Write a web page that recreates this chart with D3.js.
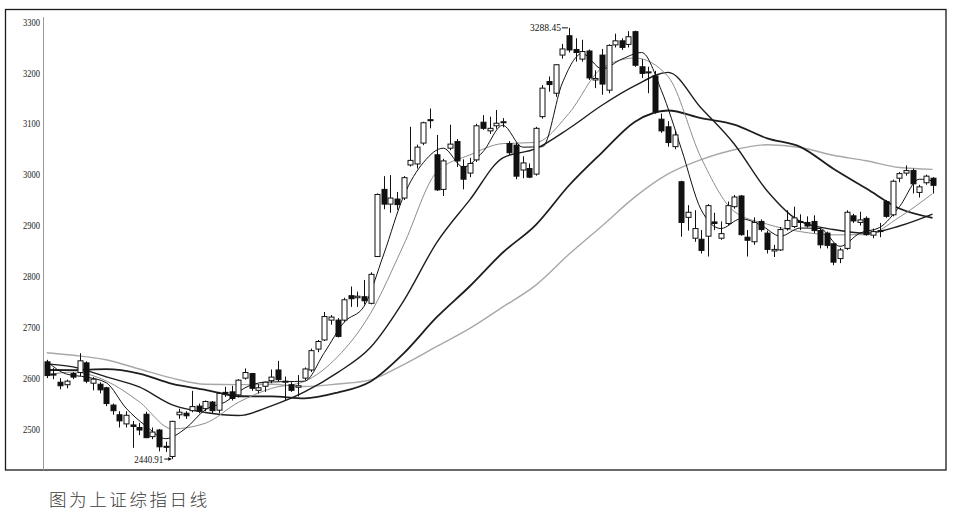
<!DOCTYPE html>
<html><head><meta charset="utf-8">
<script src="https://cdn.jsdelivr.net/npm/d3@7"></script>
<style>html,body{margin:0;padding:0;background:#fff;}svg{display:block;}</style>
</head><body>
<script>
// ---- data (Shanghai Composite daily, 2018-12-06 .. 2019-06-28) ----
const open = [2632,2608,2592,2587,2609,2611,2630,2590,2588,2581, 2547,2528,2510,2508,2503,2529,2485,2498,2466,2446,
 2528,2531,2536,2545,2540,2553,2537,2572,2573,2567, 2600,2609,2576,2584,2595,2616,2592,2587,2582,2600,
 2616,2657,2675,2714,2714,2714,2762,2758,2760,2747, 2839,2971,2942,2952,2954,3019,3021,3062,3108,3039,
 2971,3052,3065,3016,3003,3029,3103,3086,3096,3102, 3061,3058,3009,3012,3001,3114,3183,3160,3235,3273,
 3246,3227,3243,3186,3235,3166,3255,3263,3256,3281, 3212,3200,3194,3109,3094,3055,2986,2916,2875,2873,
 2879,2907,2875,2904,2937,2958,2877,2868,2908,2885, 2850,2852,2894,2898,2908,2906,2908,2890,2885,2864,
 2835,2855,2919,2906,2914,2881,2889,2947,2921,2993, 3003,3008,2965,2984,2993];
const high = [2636,2620,2600,2597,2612,2649,2633,2602,2592,2583, 2550,2535,2535,2516,2512,2534,2503,2500,2475,2516,
 2540,2535,2575,2550,2556,2555,2573,2583,2585,2598, 2619,2610,2588,2593,2617,2634,2603,2592,2606,2621,
 2658,2675,2730,2724,2718,2758,2780,2770,2793,2808, 2963,2997,2999,2966,2997,3094,3059,3104,3130,3078,
 3031,3098,3070,3030,3033,3100,3117,3114,3127,3111, 3066,3062,3036,3022,3094,3176,3193,3217,3257,3288.45,
 3268,3265,3246,3205,3247,3256,3277,3268,3282,3283, 3227,3212,3204,3120,3105,3086,2988,2940,2930,2891,
 2942,2925,2908,2947,2960,2960,2891,2916,2912,2890, 2862,2897,2930,2937,2922,2918,2920,2895,2888,2866,
 2856,2930,2923,2927,2918,2894,2905,2950,2990,3005, 3018,3012,2980,3000,2995];
const low = [2600,2598,2578,2580,2598,2604,2590,2576,2570,2545, 2528,2503,2503,2463,2488,2482,2480,2456,2455,2440.91,
 2520,2520,2533,2531,2535,2531,2531,2563,2556,2562, 2597,2575,2570,2573,2590,2593,2557,2573,2564,2596,
 2612,2651,2673,2705,2680,2710,2740,2740,2745,2745, 2838,2932,2925,2931,2950,3016,3012,3058,3091,2968,
 2958,3048,3015,2971,2995,3025,3088,3080,3090,3093, 3039,2991,2993,2993,2998,3110,3163,3153,3228,3240,
 3222,3222,3186,3170,3157,3160,3250,3245,3250,3212, 3190,3160,3120,3082,3055,3050,2878,2890,2868,2845,
 2839,2891,2872,2900,2933,2880,2839,2862,2888,2845, 2838,2850,2890,2895,2891,2896,2885,2855,2855,2822,
 2826,2852,2905,2900,2880,2875,2877,2915,2918,2985, 2998,2963,2955,2980,2963];
const close = [2605,2606,2585,2594,2602,2634,2594,2598,2577,2550, 2536,2516,2527,2505,2498,2483,2494,2465,2464,2515,
 2533,2526,2544,2535,2554,2536,2570,2570,2560,2596, 2611,2580,2581,2592,2602,2597,2594,2576,2585,2618,
 2654,2672,2721,2720,2682,2754,2756,2761,2752,2804, 2961,2942,2954,2941,2994,3028,3054,3102,3106,2970,
 3027,3060,3027,2991,3022,3096,3091,3091,3101,3104, 3043,2997,3023,2995,3091,3170,3177,3216,3247,3245,
 3240,3242,3190,3189,3178,3254,3263,3250,3271,3215, 3199,3202,3124,3086,3063,3078,2906,2926,2894,2851,
 2939,2904,2884,2939,2956,2882,2871,2906,2892,2853, 2853,2892,2910,2915,2906,2899,2890,2862,2861,2828,
 2852,2926,2909,2911,2882,2888,2890,2918,2987,3002, 3008,2982,2976,2997,2979];

// moving averages (day index -> value)
const ma5Days = [0,3,6,9,12,15,18,21,24,27,30,33,36,39,42,45,48,51,54,57,60,63,66,69,72,75,78,81,84,87,90,93,96,99,102,105,108,111,114,117,120,123,126,129,132,134];
const ma5 = [2633,2608,2602,2591,2541,2506,2481,2501,2538,2553,2581,2592,2593,2594,2650,2710,2741,2844,2958,3024,3052,3015,3045,3097,3054,3055,3180,3238,3208,3227,3240,3165,3051,2931,2894,2913,2901,2879,2895,2894,2859,2885,2896,2937,2991,2988];
const maDays = [0,4,9,14,19,24,29,34,39,44,49,54,59,64,69,74,79,84,89,94,99,104,109,114,119,124,129,134];
const ma10 = [2606,2612,2594.5,2553.5,2500.3,2511.3,2552.4,2579.8,2593.6,2641.9,2727.6,2861.9,3005.2,3038.7,3061,3063.2,3120.4,3209.4,3229.2,3192.7,3032.9,2927.7,2902.6,2888,2881.6,2882,2916.5,2962.7];
const ma20 = [2628,2622,2602.5,2582.6,2547.4,2532.4,2526.4,2545.6,2573,2610.9,2660.6,2751.9,2866.4,2950.3,3033.1,3051,3090.7,3136.3,3174.8,3201,3131,3060.2,2967.8,2907.9,2892.1,2885,2899,2922.4];
const ma40 = [2616,2615.7,2617.6,2609,2588.6,2577,2564.4,2564.1,2560.2,2571.6,2593.5,2648.7,2719.7,2780.6,2846.9,2901.4,2978.6,3043.3,3104,3126,3110.9,3098.3,3071.3,3054.5,3011.6,2972.6,2933.4,2915.1];
const ma60 = [2650,2645,2636,2618,2600,2588,2587.2,2588,2583.4,2588.4,2596.5,2626.7,2662.3,2697.9,2740,2782.8,2843.4,2899.2,2956.2,3001.3,3029.4,3048.9,3058.6,3053.3,3038,3027.2,3013.9,3010.4];

const yTicks = [2500,2600,2700,2800,2900,3000,3100,3200,3300];
const highLabel = "3288.45", lowLabel = "2440.91";
const caption = "图为上证综指日线";

// ---- drawing ----
const W = 962, H = 521;
const svg = d3.select("body").append("svg").attr("width", W).attr("height", H);
svg.append("rect").attr("width", W).attr("height", H).attr("fill", "#fff");

const n = close.length;
const x = d3.scaleLinear().domain([0, n - 1]).range([46.7, 932.5]);
const y = d3.scaleLinear().domain([2500, 3300]).range([429, 22]);

// frame
svg.append("rect").attr("x", 5.5).attr("y", 9.5).attr("width", 940.5).attr("height", 460.5)
  .attr("fill", "none").attr("stroke", "#1a1a1a").attr("stroke-width", 1.3);
// y axis line
svg.append("line").attr("x1", 43.5).attr("x2", 43.5).attr("y1", 17).attr("y2", 470)
  .attr("stroke", "#9a9a9a").attr("stroke-width", 1);

const axis = d3.axisLeft(y).tickValues(yTicks).tickSize(0).tickPadding(0).tickFormat(d3.format("d"));
const gA = svg.append("g").attr("transform", "translate(40,0)").call(axis);
gA.select(".domain").remove();
gA.selectAll("text").attr("font-family", "'Liberation Serif', 'DejaVu Serif', serif")
  .attr("font-size", 10).attr("fill", "#222").attr("textLength", 17).attr("lengthAdjust", "spacingAndGlyphs");

// moving averages
function maLine(days, vals, color, w) {
  const pts = days.map((d, i) => [d, vals[i]]);
  svg.append("path").datum(pts)
    .attr("d", d3.line().x(d => x(d[0])).y(d => y(d[1])).curve(d3.curveMonotoneX))
    .attr("fill", "none").attr("stroke", color).attr("stroke-width", w);
}
maLine(maDays, ma60, "#a8a8a8", 1.4);
maLine(maDays, ma40, "#1e1e1e", 1.8);
maLine(maDays, ma20, "#1e1e1e", 1.4);
maLine(maDays, ma10, "#8c8c8c", 1);
maLine(ma5Days, ma5, "#111", 1);

// candles
const idx = d3.range(n);
const bw = 5;
const g = svg.append("g");
g.selectAll("line.wick").data(idx).join("line").attr("class", "wick")
  .attr("x1", i => Math.round(x(i)) + 0.5).attr("x2", i => Math.round(x(i)) + 0.5)
  .attr("y1", i => y(high[i])).attr("y2", i => y(low[i]))
  .attr("stroke", "#111").attr("stroke-width", 1);
g.selectAll("rect.body").data(idx).join("rect").attr("class", "body")
  .attr("x", i => Math.round(x(i)) + 0.5 - bw / 2)
  .attr("width", bw)
  .attr("y", i => y(Math.max(open[i], close[i])))
  .attr("height", i => Math.max(1, Math.abs(y(open[i]) - y(close[i]))))
  .attr("fill", i => close[i] >= open[i] ? "#fff" : "#111")
  .attr("stroke", "#111").attr("stroke-width", 1);

// high / low annotations
const iHi = high.indexOf(d3.max(high)), iLo = low.indexOf(d3.min(low));
const annFont = "'Liberation Serif', 'DejaVu Serif', serif";
const yh = y(high[iHi]);
svg.append("text").attr("x", x(iHi) - 8).attr("y", yh + 3.5).attr("text-anchor", "end")
  .attr("font-family", annFont).attr("font-size", 10.5).attr("fill", "#111")
  .attr("textLength", 31).attr("lengthAdjust", "spacingAndGlyphs").text(highLabel);
svg.append("line").attr("x1", x(iHi) - 7).attr("x2", x(iHi) - 1).attr("y1", yh).attr("y2", yh).attr("stroke", "#111");
const yl = y(low[iLo]);
svg.append("text").attr("x", x(iLo) - 9).attr("y", yl + 3.5).attr("text-anchor", "end")
  .attr("font-family", annFont).attr("font-size", 10.5).attr("fill", "#111")
  .attr("textLength", 29).attr("lengthAdjust", "spacingAndGlyphs").text(lowLabel);
svg.append("line").attr("x1", x(iLo) - 8).attr("x2", x(iLo) - 1).attr("y1", yl).attr("y2", yl).attr("stroke", "#111");
svg.append("path").attr("d", `M${x(iLo)-1},${yl} l-3,-2 l0,4 z`).attr("fill", "#111");

// caption
svg.append("text").attr("x", 49).attr("y", 506)
  .attr("font-family", "'Noto Sans CJK SC', sans-serif").attr("font-weight", 300)
  .attr("font-size", 17.5).attr("letter-spacing", 2.6).attr("fill", "#3a3a3a").text(caption);
</script>
</body></html>
